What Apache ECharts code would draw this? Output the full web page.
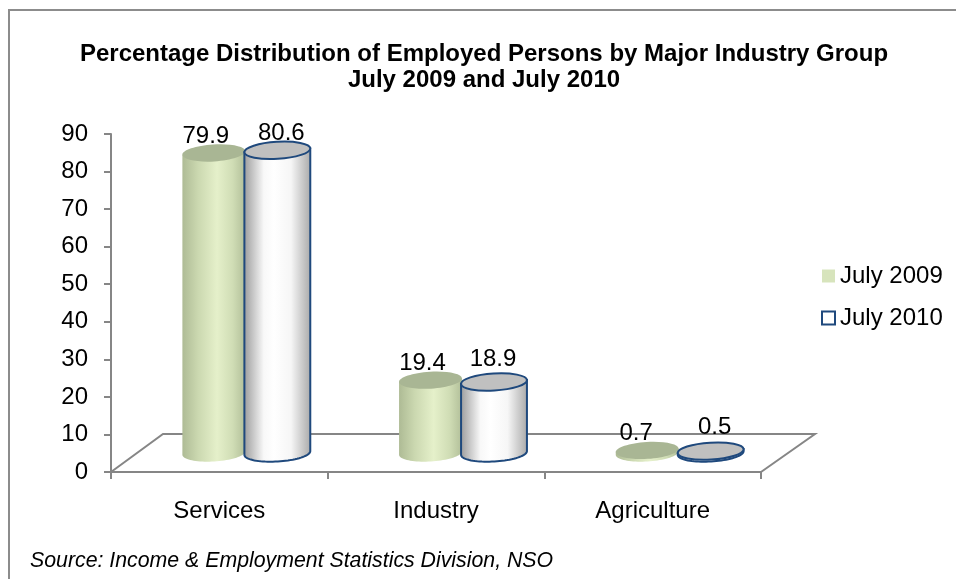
<!DOCTYPE html>
<html lang="en">
<head>
  <meta charset="UTF-8" />
  <title>Employed persons by major industry group</title>
  <style>
    * {
      margin: 0;
      padding: 0;
    }
    html,
    body {
      width: 100%;
      background: #fff;
    }
    #chart {
      width: 956px;
      height: 579px;
    }
  </style>
</head>
<body>
  <div id="chart"></div>
  <script src="https://cdn.jsdelivr.net/npm/echarts@6/dist/echarts.min.js"></script>
  <script>
    var categories = ['Services', 'Industry', 'Agriculture'];
    var july2009 = [79.9, 19.4, 0.7];
    var july2010 = [80.6, 18.9, 0.5];
    var yTicks = [0, 90, 10]; // min, max, step

    var FONT = '"Liberation Sans", Arial, sans-serif';
    var AXIS_COLOR = '#868686';
    var NAVY = '#1f497d';

    // fake 3D: the bars stand on a floor that goes back and to the right
    var floorDepth = { left: 52, right: 54, rise: 38 };
    var baseRise = 19; // bar base sits this far above the front edge of the floor
    var tilt = 0.06; // ellipses lean a little, right side up

    function ellipsePoint(cx, cy, rx, ry, a) {
      var x = rx * Math.cos(a), y = ry * Math.sin(a);
      return [
        cx + x * Math.cos(tilt) + y * Math.sin(tilt),
        cy - x * Math.sin(tilt) + y * Math.cos(tilt)
      ];
    }

    function cylinder(look) {
      return function (params, api) {
        var idx = api.value(0);
        var top = api.coord([idx, api.value(1)]);
        var zero = api.coord([idx, 0]);
        var cx = top[0] + look.dx;
        var cyTop = top[1] - baseRise;
        var cyBase = zero[1] - baseRise;
        var rx = look.rx, ry = 8.5;

        // side of the cylinder: the lower half of the base ellipse, then up to the top
        var side = [];
        for (var i = 0; i <= 40; i++) {
          side.push(ellipsePoint(cx, cyBase, rx, ry, Math.PI - Math.PI * i / 40));
        }
        side.push(ellipsePoint(cx, cyTop, rx, ry, 0));
        side.push(ellipsePoint(cx, cyTop, rx, ry, Math.PI));

        return {
          type: 'group',
          children: [
            {
              type: 'polygon',
              shape: { points: side },
              style: {
                fill: new echarts.graphic.LinearGradient(0, 0, 1, 0, look.body),
                stroke: look.stroke,
                lineWidth: look.lineWidth
              }
            },
            {
              type: 'ellipse',
              shape: { cx: cx, cy: cyTop, rx: rx, ry: ry },
              originX: cx,
              originY: cyTop,
              rotation: tilt,
              style: { fill: look.cap, stroke: look.stroke, lineWidth: look.lineWidth }
            },
            {
              type: 'text',
              style: {
                text: String(api.value(1)),
                x: cx + look.labelDx[idx],
                y: cyTop + look.labelDy[idx],
                align: 'center',
                verticalAlign: 'middle',
                fill: '#000',
                font: '24px ' + FONT
              }
            }
          ]
        };
      };
    }

    function drawFloor(params) {
      var g = params.coordSys;
      var y0 = g.y + g.height;
      return {
        type: 'polyline',
        silent: true,
        shape: {
          points: [
            [g.x, y0],
            [g.x + floorDepth.left, y0 - floorDepth.rise],
            [g.x + g.width + floorDepth.right, y0 - floorDepth.rise],
            [g.x + g.width, y0]
          ]
        },
        style: { fill: 'none', stroke: AXIS_COLOR, lineWidth: 2 }
      };
    }

    function points(values) {
      return values.map(function (v, i) {
        return [i, v];
      });
    }

    var myChart = echarts.init(document.getElementById('chart'), null, { renderer: 'canvas' });

    myChart.setOption({
      animation: false,
      backgroundColor: '#fff',
      title: {
        text: 'Percentage Distribution of Employed Persons by Major Industry Group\nJuly 2009 and July 2010',
        left: 479,
        top: 36,
        textAlign: 'center',
        textStyle: { fontFamily: FONT, fontSize: 24, fontWeight: 'bold', color: '#000', lineHeight: 26 }
      },
      grid: { left: 111, top: 134, right: 195, bottom: 107 },
      legend: {
        orient: 'vertical',
        left: 816,
        top: 259,
        itemWidth: 13,
        itemHeight: 13,
        itemGap: 18,
        textStyle: { fontFamily: FONT, fontSize: 24, color: '#000' },
        data: [
          { name: 'July 2009', icon: 'rect', itemStyle: { color: '#d7e4bc', borderWidth: 0 } },
          { name: 'July 2010', icon: 'rect', itemStyle: { color: '#fff', borderColor: NAVY, borderWidth: 2 } }
        ]
      },
      xAxis: {
        type: 'category',
        data: categories,
        axisLine: { lineStyle: { color: AXIS_COLOR, width: 2 } },
        axisTick: { show: true, length: 7, lineStyle: { color: AXIS_COLOR, width: 2 } },
        axisLabel: { fontFamily: FONT, fontSize: 24, color: '#000', margin: 27 }
      },
      yAxis: {
        type: 'value',
        min: yTicks[0],
        max: yTicks[1],
        interval: yTicks[2],
        splitLine: { show: false },
        axisLine: { show: true, lineStyle: { color: AXIS_COLOR, width: 2 } },
        axisTick: { show: true, length: 7, lineStyle: { color: AXIS_COLOR, width: 2 } },
        axisLabel: { fontFamily: FONT, fontSize: 24, color: '#000', margin: 23, padding: [3, 0, 0, 0] }
      },
      graphic: [
        // the picture's frame, only left and top are visible
        { type: 'polyline', shape: { points: [[9, 579], [9, 10], [956, 10]] }, style: { fill: 'none', stroke: '#8c8c8c', lineWidth: 2 } },
        {
          type: 'text',
          left: 30,
          top: 551,
          style: { text: 'Source: Income & Employment Statistics Division, NSO', fill: '#000', font: 'italic 21.3px ' + FONT }
        }
      ],
      series: [
        {
          type: 'custom',
          name: 'floor',
          z: 1,
          coordinateSystem: 'cartesian2d',
          data: [[0, 0]],
          renderItem: drawFloor
        },
        {
          type: 'custom',
          name: 'July 2009',
          z: 2,
          coordinateSystem: 'cartesian2d',
          itemStyle: { color: '#d7e4bc' },
          data: points(july2009),
          renderItem: cylinder({
            dx: -5.5,
            rx: 31.5,
            cap: '#a9b694',
            stroke: null,
            lineWidth: 0,
            labelDx: [-8, -8, -11],
            labelDy: [-17, -17, -17],
            body: [
              { offset: 0, color: '#aebb95' },
              { offset: 0.25, color: '#cbd8b0' },
              { offset: 0.55, color: '#e5f0ca' },
              { offset: 0.8, color: '#d0ddb5' },
              { offset: 1, color: '#b2bf99' }
            ]
          })
        },
        {
          type: 'custom',
          name: 'July 2010',
          z: 3,
          coordinateSystem: 'cartesian2d',
          itemStyle: { color: '#fff', borderColor: NAVY },
          data: points(july2010),
          renderItem: cylinder({
            dx: 58,
            rx: 33,
            cap: '#c0c0c0',
            stroke: NAVY,
            lineWidth: 2,
            labelDx: [4, -1, 4],
            labelDy: [-17, -23, -24],
            body: [
              { offset: 0, color: '#9a9a9a' },
              { offset: 0.3, color: '#f8f8f8' },
              { offset: 0.45, color: '#ffffff' },
              { offset: 0.7, color: '#f6f6f6' },
              { offset: 1, color: '#a8a8a8' }
            ]
          })
        }
      ]
    });
  </script>
</body>
</html>
